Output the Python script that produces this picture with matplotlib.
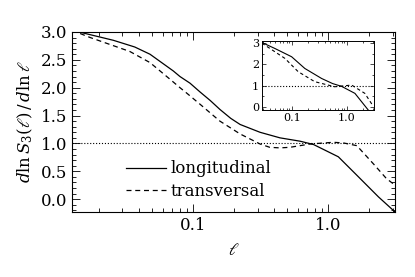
import matplotlib
matplotlib.use("Agg")
import matplotlib.pyplot as plt
from matplotlib.ticker import MultipleLocator, FixedLocator, FixedFormatter, NullFormatter
import numpy as np

plt.rcParams['font.family'] = 'DejaVu Serif'
plt.rcParams['mathtext.fontset'] = 'dejavuserif'

# main panel
l_long = [0.0127, 0.0257, 0.037, 0.048, 0.0714, 0.080, 0.095, 0.113, 0.134, 0.158,
          0.19, 0.223, 0.313, 0.44, 0.62, 0.78, 1.19, 1.63, 2.36, 3.13]
s_long = [3.03, 2.85, 2.73, 2.60, 2.30, 2.20, 2.08, 1.92, 1.77, 1.61,
          1.45, 1.34, 1.20, 1.10, 1.04, 0.98, 0.76, 0.43, 0.04, -0.23]
l_tran = [0.0127, 0.0173, 0.034, 0.048, 0.0676, 0.080, 0.090, 0.113, 0.158, 0.223,
          0.313, 0.37, 0.44, 0.52, 0.62, 0.736, 1.09, 1.29, 1.63, 2.17, 2.7, 3.13]
s_tran = [3.03, 2.90, 2.65, 2.45, 2.15, 2.00, 1.90, 1.70, 1.40, 1.17,
          0.99, 0.93, 0.92, 0.93, 0.96, 0.99, 1.02, 1.01, 0.96, 0.63, 0.37, 0.25]

# inset
li_long = [0.0285, 0.049, 0.099, 0.172, 0.347, 0.55, 0.80, 1.40, 2.44]
si_long = [3.03, 2.75, 2.36, 1.81, 1.34, 1.10, 0.97, 0.64, -0.14]
li_tran = [0.0285, 0.075, 0.13, 0.26, 0.6, 1.22, 2.12, 2.9]
si_tran = [3.0, 2.28, 1.66, 1.19, 0.95, 1.03, 0.64, 0.1]

fig = plt.figure(figsize=(4.15, 2.77), dpi=100)
ax = fig.add_axes([0.1735, 0.2347, 0.7785, 0.65])
ax.plot(l_long, s_long, 'k-', lw=0.9, label='longitudinal')
ax.plot(l_tran, s_tran, 'k--', lw=0.9, dashes=(4, 3), label='transversal')
ax.axhline(1.0, color='k', ls=':', lw=0.8)
ax.set_xscale('log')
ax.set_xlim(0.0127, 3.13)
ax.set_ylim(-0.23, 3.0)
ax.xaxis.set_major_locator(FixedLocator([0.1, 1.0]))
ax.xaxis.set_major_formatter(FixedFormatter(['0.1', '1.0']))
ax.xaxis.set_minor_formatter(NullFormatter())
ax.yaxis.set_major_locator(MultipleLocator(0.5))
ax.yaxis.set_minor_locator(MultipleLocator(0.1))
ax.yaxis.set_major_formatter(matplotlib.ticker.FormatStrFormatter('%.1f'))
ax.tick_params(which='both', direction='in', top=True, right=True, labelsize=12, width=0.6)
ax.tick_params(which='major', length=6)
ax.tick_params(which='minor', length=3)
for sp in ax.spines.values():
    sp.set_linewidth(0.8)
ax.set_xlabel(r'$\ell$', fontsize=12, labelpad=6)
ax.set_ylabel(r'$d\ln S_3(\ell)\,/\,d\ln\ell$', fontsize=12, labelpad=4)
ax.legend(loc='lower left', bbox_to_anchor=(0.13, 0.0), frameon=False, fontsize=12,
          handlelength=2.4, handletextpad=0.3, labelspacing=0.35, borderpad=0.2)

ins = fig.add_axes([0.631, 0.603, 0.270, 0.249])
ins.plot(li_long, si_long, 'k-', lw=0.8)
ins.plot(li_tran, si_tran, 'k--', lw=0.8, dashes=(3, 2.5))
ins.axhline(1.0, color='k', ls=':', lw=0.8)
ins.set_xscale('log')
ins.set_xlim(0.0285, 3.1)
ins.set_ylim(-0.14, 3.1)
ins.xaxis.set_major_locator(FixedLocator([0.1, 1.0]))
ins.xaxis.set_major_formatter(FixedFormatter(['0.1', '1.0']))
ins.xaxis.set_minor_formatter(NullFormatter())
ins.yaxis.set_major_locator(MultipleLocator(1))
ins.yaxis.set_minor_locator(MultipleLocator(0.5))
ins.tick_params(which='both', direction='in', top=True, right=True, labelsize=8, width=0.5, pad=2)
ins.tick_params(which='major', length=3)
ins.tick_params(which='minor', length=1.5)
for sp in ins.spines.values():
    sp.set_linewidth(0.7)

fig.savefig('out.png', dpi=100)
